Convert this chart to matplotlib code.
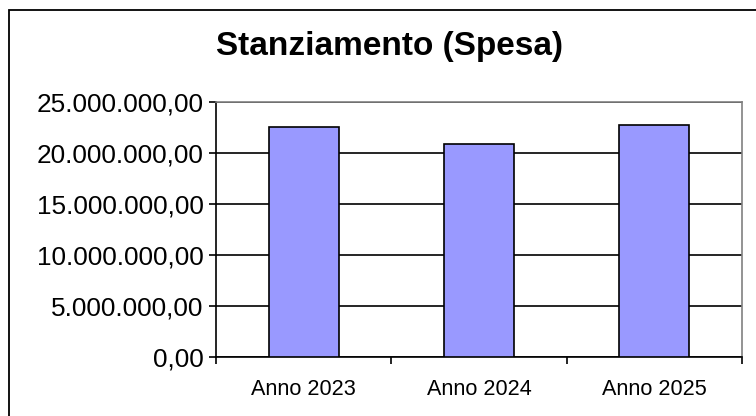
import matplotlib.pyplot as plt
import numpy as np
from matplotlib.ticker import FuncFormatter, FixedLocator
from matplotlib.patches import Rectangle

plt.rcParams['font.family'] = ['Liberation Sans', 'DejaVu Sans']

categories = ['Anno 2023', 'Anno 2024', 'Anno 2025']
values = [22550000, 20920000, 22780000]
y_ticks = [0, 5000000, 10000000, 15000000, 20000000, 25000000]


def it_format(v, pos):
    # italian style: 25.000.000,00
    s = '{:,.2f}'.format(v)
    return s.replace(',', 'X').replace('.', ',').replace('X', '.')


W, H = 756, 416
fig = plt.figure(figsize=(W / 100, H / 100), dpi=100)
ax = fig.add_axes([216 / W, 1 - 357 / H, (742 - 216) / W, (357 - 102) / H])

x = np.arange(len(categories))
ax.bar(x, values, width=0.4, color='#9999FF', edgecolor='black', linewidth=1.2, zorder=3)

ax.set_xlim(-0.5, len(categories) - 0.5)
ax.set_ylim(0, 25000000)
ax.set_yticks(y_ticks)
ax.yaxis.set_major_formatter(FuncFormatter(it_format))
ax.yaxis.grid(True, color='black', linewidth=1.2, zorder=1)

ax.set_xticks(x)
ax.set_xticklabels(categories)
ax.xaxis.set_minor_locator(FixedLocator(np.arange(-0.5, len(categories), 1.0)))
ax.tick_params(axis='x', which='major', length=0, labelsize=15.6, pad=16)
ax.tick_params(axis='x', which='minor', length=5, width=1.2, direction='out')
ax.tick_params(axis='y', length=5, width=1.2, labelsize=18.8, pad=4)

for side in ['top', 'right']:
    ax.spines[side].set_color('#808080')
    ax.spines[side].set_linewidth(1.2)
for side in ['left', 'bottom']:
    ax.spines[side].set_color('black')
    ax.spines[side].set_linewidth(1.2)

fig.text(389 / W, 1 - 46 / H, 'Stanziamento (Spesa)', ha='center', va='center',
         fontsize=24, fontweight='bold')

# outer chart frame (cut off at right and bottom)
fig.patches.append(Rectangle((9 / W, -0.05), 1.0, 1 - 10 / H + 0.05,
                             transform=fig.transFigure, fill=False,
                             edgecolor='black', linewidth=1.3))

fig.savefig('out.png', dpi=100)
